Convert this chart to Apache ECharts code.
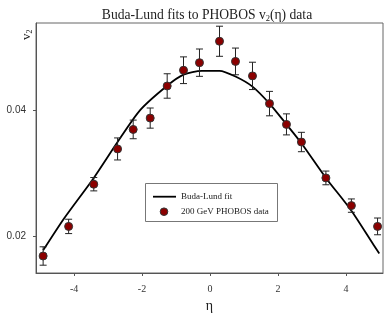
<!DOCTYPE html>
<html>
<head>
<meta charset="utf-8">
<script src="https://cdn.jsdelivr.net/npm/echarts@6/dist/echarts.min.js"></script>
<style>html,body{margin:0;padding:0;background:#fff}#c{width:388px;height:318px}</style>
</head>
<body>
<div id="c"></div>
<script>
// PHOBOS data
const eta = [-4.91,-4.16,-3.42,-2.72,-2.26,-1.76,-1.26,-0.78,-0.31,0.28,0.75,1.25,1.75,2.25,2.69,3.41,4.16,4.93];
const v2 = [0.0168,0.0215,0.0282,0.0338,0.0369,0.0387,0.0438,0.0463,0.0475,0.0509,0.0477,0.0454,0.0410,0.0377,0.0349,0.0292,0.0248,0.0215];
const err = [0.00146,0.00114,0.00106,0.00175,0.00148,0.0016,0.00194,0.00212,0.00217,0.00239,0.00212,0.00217,0.00194,0.00167,0.00154,0.00109,0.00106,0.00133];
// Buda-Lund fit curve
const fitEta = [-4.91,-4.29,-3.42,-2.72,-2.05,-1.27,-0.78,-0.24,0.28,0.75,1.25,1.75,2.25,2.69,3.41,4.16,4.81,4.98];
const fitV2 = [0.0177,0.0228,0.0292,0.0349,0.0400,0.0438,0.0456,0.0462,0.0462,0.0453,0.0437,0.0410,0.0377,0.0347,0.0292,0.0240,0.0186,0.0172];
// ticks
const xTicks = [-4,-2,0,2,4];
const yTicks = [0.02,0.04];
// legend labels
const fitName = 'Buda-Lund fit';
const dataName = '200 GeV PHOBOS data';

const serif = '"Liberation Serif","DejaVu Serif",serif';
const sans = '"Liberation Sans","DejaVu Sans",sans-serif';

const chart = echarts.init(document.getElementById('c'), null, {renderer:'canvas'});
const pts = eta.map((x,i)=>[x, v2[i], err[i]]);
const fit = fitEta.map((x,i)=>[x, fitV2[i]]);

chart.setOption({
  animation:false,
  title:{
    text:'Buda-Lund fits to PHOBOS v{sub|2}(η) data',
    left:202, top:2, textAlign:'center',
    textStyle:{fontFamily:serif, fontSize:13.6, fontWeight:'normal', color:'#222',
      rich:{sub:{fontFamily:serif, fontSize:8.5, padding:[7,0,0,0], color:'#222'}}}
  },
  graphic:[
    {
      type:'text', x:19, y:40, rotation:Math.PI/2,
      style:{text:'v{s|2}', fontFamily:serif, fontSize:13, fill:'#222', align:'left', verticalAlign:'top',
        rich:{s:{fontFamily:serif, fontSize:8, padding:[7,0,0,0], fill:'#222'}}}
    },
    {
      type:'rect', shape:{x:145.5, y:183.5, width:132, height:38},
      style:{fill:'#fff', stroke:'#777', lineWidth:1}, z:10
    },
    {
      type:'line', shape:{x1:153, y1:196.7, x2:176, y2:196.7},
      style:{stroke:'#000', lineWidth:1.8}, z:11
    },
    {
      type:'circle', shape:{cx:164, cy:211.7, r:3.8},
      style:{fill:'#8b0000', stroke:'#333', lineWidth:1}, z:11
    },
    {
      type:'text', x:181, y:196.7, z:11,
      style:{text:fitName, fontFamily:serif, fontSize:9, fill:'#222', verticalAlign:'middle'}
    },
    {
      type:'text', x:181, y:211.7, z:11,
      style:{text:dataName, fontFamily:serif, fontSize:9, fill:'#222', verticalAlign:'middle'}
    }
  ],
  grid:{left:36, right:5, top:23, bottom:45, show:true, borderColor:'#666', borderWidth:1},
  xAxis:{
    type:'value', min:-5.12, max:5.09,
    name:'η', nameLocation:'middle', nameGap:22,
    nameTextStyle:{fontFamily:serif, fontSize:14, color:'#222'},
    splitLine:{show:false},
    axisLine:{onZero:false, lineStyle:{color:'#555'}},
    axisTick:{customValues:xTicks, length:3, inside:false, lineStyle:{color:'#555'}},
    axisLabel:{customValues:xTicks, margin:11, fontFamily:serif, fontSize:10, color:'#333'}
  },
  yAxis:{
    type:'value', min:0.0141, max:0.0538,
    splitLine:{show:false},
    axisLine:{show:true, onZero:false, lineStyle:{color:'#555'}},
    axisTick:{show:true, customValues:yTicks, length:3, inside:false, lineStyle:{color:'#555'}},
    axisLabel:{customValues:yTicks, margin:10, fontFamily:sans, fontSize:10, color:'#333',
      formatter:v=>v.toFixed(2)}
  },
  series:[
    {
      name:fitName, type:'line', data:fit, showSymbol:false, symbol:'none', smooth:0.25,
      lineStyle:{color:'#000', width:1.8}, itemStyle:{color:'#000'}, z:2
    },
    {
      name:'errbars', type:'custom', data:pts, z:3,
      renderItem:(params, api)=>{
        const x=api.value(0), y=api.value(1), e=api.value(2);
        const lo=api.coord([x, y-e]), hi=api.coord([x, y+e]);
        const w=3.5;
        const st={stroke:'#222', lineWidth:1};
        return {type:'group', children:[
          {type:'line', shape:{x1:lo[0],y1:lo[1],x2:hi[0],y2:hi[1]}, style:st},
          {type:'line', shape:{x1:lo[0]-w,y1:lo[1],x2:lo[0]+w,y2:lo[1]}, style:st},
          {type:'line', shape:{x1:hi[0]-w,y1:hi[1],x2:hi[0]+w,y2:hi[1]}, style:st}
        ]};
      }
    },
    {
      name:dataName, type:'scatter', data:pts.map(p=>[p[0],p[1]]),
      symbol:'circle', symbolSize:8, z:4,
      itemStyle:{color:'#8b0000', borderColor:'#333', borderWidth:1, opacity:1}
    }
  ]
});
</script>
</body>
</html>
